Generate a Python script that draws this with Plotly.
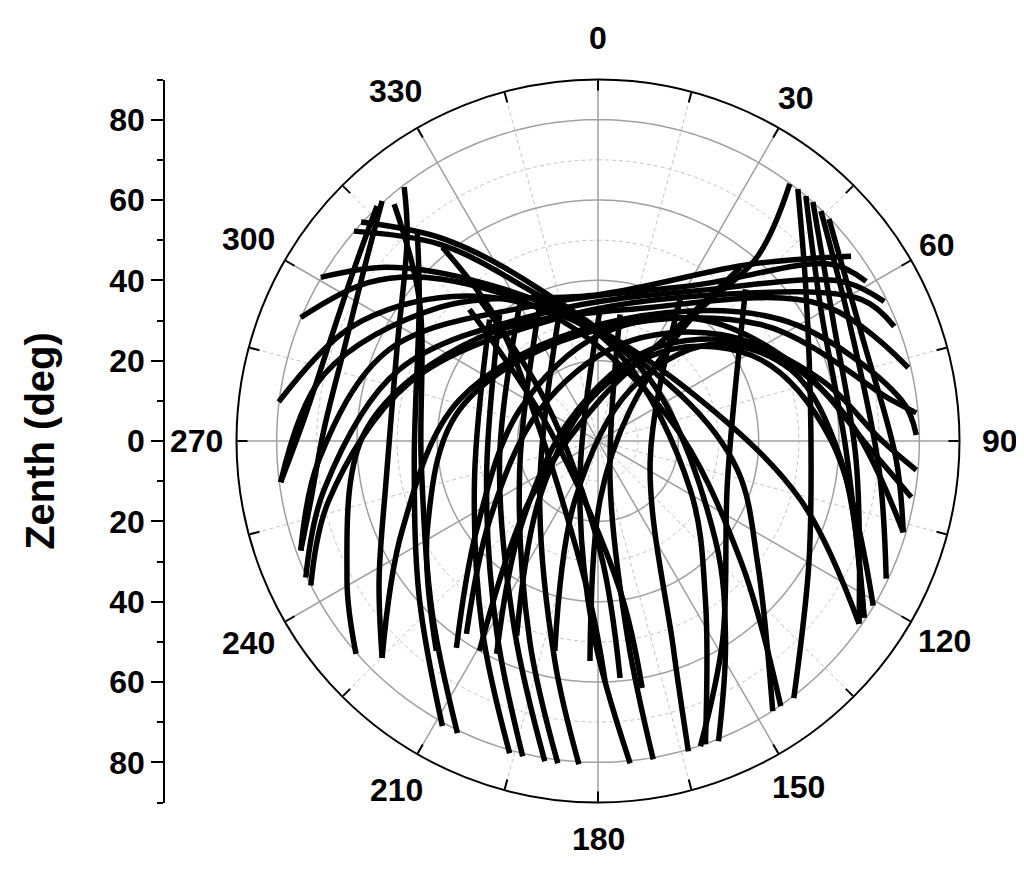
import numpy as np
import plotly.graph_objects as go

# ---- Satellite sky tracks (east / north offsets, in degrees of zenith angle) ----
trk01_east = [-79, -68.25, -39.5, 0.5, 38, 63]
trk01_north = [-10.25, 16.5, 33.25, 36.5, 44, 46]
trk02_east = [-74, -69.5, -52, -14.5, 25.5, 58, 66.75]
trk02_north = [-27.25, -4.75, 22.75, 34, 39, 44, 39.75]
trk03_east = [-72.75, -68.25, -49.5, -12, 28, 60.5, 71.25]
trk03_north = [-34, -12.25, 17.75, 32.25, 37.75, 39.75, 34.75]
trk04_east = [-71.5, -67, -47, -9.5, 30.5, 65.5, 73.75]
trk04_north = [-36, -14.75, 14.5, 30.75, 36.5, 35.25, 28.5]
trk05_east = [-60.25, -62.5, -57.75, -29.5, 13, 55.5, 77.25]
trk05_north = [-53, -34, 2.75, 25.75, 33.25, 34, 18.25]
trk06_east = [-53.75, -48.75, -34.5, 0.5, 45.5, 75.5, 79.25]
trk06_north = [-54, -22.25, 10.25, 29, 30.25, 10.25, 1.5]
trk07_east = [-40.25, -42.5, -34.5, -4.5, 40.5, 73, 79.25]
trk07_north = [-52.25, -22.25, 7.75, 26.5, 29, 10.25, 7]
trk08_east = [-35.25, -30.25, -19.5, 0.5, 25.5, 50.5, 68, 78]
trk08_north = [-51.5, -22.25, 7.75, 26.5, 30.25, 17.75, -2.25, -14]
trk09_east = [-32.75, -27, -14.5, 5.5, 30.5, 55.5, 70.5, 79.25]
trk09_north = [-48, -19.75, 7.75, 24, 26.5, 15.25, 0.25, -7.25]
trk10_east = [-25.25, -19.5, -7, 13, 38, 60.5, 76]
trk10_north = [-53, -22.25, 5.25, 22.75, 24, 7.75, -22.75]
trk11_east = [-20.25, -14.5, -2, 18, 40.5, 58, 68.5]
trk11_north = [-48.5, -14, 10.25, 22.75, 20.25, 0.25, -41]
trk12_east = [-10.75, -5.75, 8, 28, 48, 60.5, 66.25]
trk12_north = [-52.25, -14.75, 12.75, 24, 17.75, -4.75, -44]
trk13_east = [-79.5, -61.25, -36.25, -9.5, 20.5, 34.75, 39.75, 43.5]
trk13_north = [9.75, 28.5, 36, 31.5, 11.5, -7.25, -30.5, -67.25]
trk14_east = [-74, -57, -38.75, -9.5, 18, 35.5, 45.5]
trk14_north = [30.75, 39.5, 40.25, 30.25, 5.25, -29.75, -66]
trk15_east = [-69, -52.75, -32, -4.5, 25.5, 50.5, 65]
trk15_north = [40.75, 43.25, 40.25, 30.25, 10.25, -14.75, -45.5]
trk16_east = [-60.75, -39.5, -19.5, 5.5, 23, 26.75, 26.75]
trk16_north = [52.25, 49, 39, 21.5, -12.25, -39.75, -75.5]
trk17_east = [-59, -38.25, -14.5, 13, 29.25, 31.75, 30]
trk17_north = [54.5, 50.25, 37.75, 15.25, -24.75, -49.75, -74.75]
trk18_east = [-55, -60.75, -67, -73.25, -79]
trk18_north = [58.5, 42.75, 24, 5.25, -10.25]
trk19_east = [-53.75, -58.25, -63.25, -68.25, -71.5, -74]
trk19_north = [59.75, 42.75, 22.75, 2.75, -14.75, -27.25]
trk20_east = [-48.25, -47.5, -50, -52.75, -54.5, -53.75]
trk20_north = [63.25, 51, 23.5, -9.75, -34.75, -54]
trk21_east = [-45, -44.5, -45.75, -44.5, -38.75]
trk21_north = [52.25, 35.25, -5.5, -39, -71]
trk22_east = [-50.75, -44.5, -44, -41.25, -35]
trk22_north = [59, 35.25, -5.5, -43, -72.75]
trk23_east = [47.75, 39.75, 23, 8, 0.5, -2]
trk23_north = [64, 46, 30.25, 7.75, -14.75, -54.75]
trk24_east = [35.5, 20.5, 0.5, -17, -29.5]
trk24_north = [43.25, 29, 10.25, -14.75, -52.25]
trk25_east = [-38.75, -25.25, -14.5, -2, 1.75]
trk25_north = [48.25, 30.25, 2.75, -39.75, -59.75]
trk26_east = [-29.5, -13.25, 0.5, 5.5]
trk26_north = [35.25, 10.25, -27.25, -59]
trk27_east = [-32, -12, 5.5, 11]
trk27_north = [32.75, 2.75, -37.25, -61.5]
trk28_east = [-27, -30.75, -28.75, -22]
trk28_north = [30.25, -9.75, -47.25, -77.75]
trk29_east = [-24.5, -27.75, -25.25, -18.75]
trk29_north = [31.5, -9.75, -47.25, -78.5]
trk30_east = [-19.5, -24.5, -20.75, -13.25]
trk30_north = [34, -4.75, -47.25, -79.75]
trk31_east = [-14.5, -19.5, -17, -10]
trk31_north = [34, -7.25, -49.75, -80.25]
trk32_east = [-9.5, -14.5, -10.75, -4.75]
trk32_north = [32.75, -12.25, -54.75, -80.5]
trk33_east = [0.5, -4.5, -1.25, 8]
trk33_north = [32.75, -9.75, -47.25, -80.25]
trk34_east = [5.5, 3, 7.5, 13.75]
trk34_north = [31.5, -9.75, -49.75, -79.25]
trk35_east = [20.5, 13, 18.75, 22.5]
trk35_north = [35.25, -4.75, -51.5, -77.25]
trk36_east = [36.75, 32.25, 31, 25.5]
trk36_north = [37.75, -9.75, -49.75, -76]
trk37_east = [49.75, 51.75, 53, 52.5, 48.75]
trk37_north = [62.75, 37.75, 2.75, -30.5, -64]
trk38_east = [51.75, 55.5, 61.75, 66.25]
trk38_north = [61, 32.75, -2.25, -44]
trk39_east = [53.5, 58.5, 64.25, 65]
trk39_north = [59.5, 30.25, -4.75, -45.5]
trk40_east = [55.5, 63, 70, 71.75]
trk40_north = [57.25, 27.75, -7.25, -34.25]
trk41_east = [57.5, 66, 74.25, 76]
trk41_north = [55.25, 25.25, -4.75, -22.75]

# ---- Axis tick values ----
azimuth_ticks = list(range(0, 360, 15))
azimuth_label_values = list(range(0, 360, 30))
azimuth_label_text = [str(v) for v in azimuth_label_values]
zenith_major = [-80, -60, -40, -20, 0, 20, 40, 60, 80]
zenith_major_labels = ["80", "60", "40", "20", "0", "20", "40", "60", "80"]
zenith_minor = [-90, -70, -50, -30, -10, 10, 30, 50, 70, 90]
solid_rings = [20, 40, 60, 80]
dashed_rings = [10, 30, 50, 70]
solid_spokes = list(range(0, 360, 30))
dashed_spokes = list(range(15, 360, 30))

tracks = [
    (trk01_east, trk01_north), (trk02_east, trk02_north), (trk03_east, trk03_north),
    (trk04_east, trk04_north), (trk05_east, trk05_north), (trk06_east, trk06_north),
    (trk07_east, trk07_north), (trk08_east, trk08_north), (trk09_east, trk09_north),
    (trk10_east, trk10_north), (trk11_east, trk11_north), (trk12_east, trk12_north),
    (trk13_east, trk13_north), (trk14_east, trk14_north), (trk15_east, trk15_north),
    (trk16_east, trk16_north), (trk17_east, trk17_north), (trk18_east, trk18_north),
    (trk19_east, trk19_north), (trk20_east, trk20_north), (trk21_east, trk21_north),
    (trk22_east, trk22_north), (trk23_east, trk23_north), (trk24_east, trk24_north),
    (trk25_east, trk25_north), (trk26_east, trk26_north), (trk27_east, trk27_north),
    (trk28_east, trk28_north), (trk29_east, trk29_north), (trk30_east, trk30_north),
    (trk31_east, trk31_north), (trk32_east, trk32_north), (trk33_east, trk33_north),
    (trk34_east, trk34_north), (trk35_east, trk35_north), (trk36_east, trk36_north),
    (trk37_east, trk37_north), (trk38_east, trk38_north), (trk39_east, trk39_north),
    (trk40_east, trk40_north), (trk41_east, trk41_north),
]

# page body has an 8px margin; figure sized so the page is exactly 1024 wide
OFF = 8
W, H = 1024 - OFF, 878 - OFF
FONT = "Liberation Sans, Arial, sans-serif"

# polar plot geometry (figure pixels)
CX, CY, RAD = 598 - OFF, 441 - OFF, 361.5
# distance of each azimuth label centre outside the rim (px), 0..330 step 30
LABEL_GAPS = [41.5, 34.5, 30.5, 40.5, 38.5, 38.5, 36, 41.5, 42.5, 40.5, 41.5, 42.5]

fig = go.Figure()

# grid rings and spokes
ring_theta = np.linspace(0, 360, 361)
for r in dashed_rings:
    fig.add_trace(go.Scatterpolar(r=np.full(ring_theta.size, r), theta=ring_theta, mode="lines",
                                  line=dict(color="#c4c4c4", width=1, dash="4px,3px"),
                                  hoverinfo="skip", showlegend=False))
for a in dashed_spokes:
    fig.add_trace(go.Scatterpolar(r=[0, 90], theta=[a, a], mode="lines",
                                  line=dict(color="#c4c4c4", width=1, dash="4px,3px"),
                                  hoverinfo="skip", showlegend=False))
for r in solid_rings:
    fig.add_trace(go.Scatterpolar(r=np.full(ring_theta.size, r), theta=ring_theta, mode="lines",
                                  line=dict(color="#a0a0a0", width=1.5),
                                  hoverinfo="skip", showlegend=False))
for a in solid_spokes:
    fig.add_trace(go.Scatterpolar(r=[0, 90], theta=[a, a], mode="lines",
                                  line=dict(color="#a0a0a0", width=1.5),
                                  hoverinfo="skip", showlegend=False))

# satellite tracks
for east, north in tracks:
    e = np.asarray(east, dtype=float)
    n = np.asarray(north, dtype=float)
    zen = np.hypot(e, n)
    az = np.degrees(np.arctan2(e, n)) % 360
    fig.add_trace(go.Scatterpolar(r=zen, theta=az, mode="lines",
                                  line=dict(color="black", width=5.5, shape="spline", smoothing=1),
                                  hoverinfo="skip", showlegend=False))

# dummy cartesian trace to anchor the left zenith axis
fig.add_trace(go.Scatter(x=[0], y=[0], mode="markers", marker=dict(opacity=0),
                         hoverinfo="skip", showlegend=False, xaxis="x", yaxis="y"))

# azimuth labels placed outside the rim
annotations = []
for val, txt, gap in zip(azimuth_label_values, azimuth_label_text, LABEL_GAPS):
    t = np.radians(val)
    px = CX + (RAD + gap) * np.sin(t)
    py = CY - (RAD + gap) * np.cos(t)
    annotations.append(dict(x=px / W, y=1 - py / H, xref="paper", yref="paper",
                            text=txt, showarrow=False, xanchor="center", yanchor="middle",
                            font=dict(size=32, family=FONT, weight="bold", color="black")))

x0, x1 = (CX - RAD) / W, (CX + RAD) / W
y0, y1 = 1 - (CY + RAD) / H, 1 - (CY - RAD) / H

fig.update_layout(
    width=W, height=H,
    margin=dict(l=0, r=0, t=0, b=0),
    paper_bgcolor="white", plot_bgcolor="rgba(0,0,0,0)",
    font=dict(family=FONT, color="black"),
    annotations=annotations,
    polar=dict(
        domain=dict(x=[x0, x1], y=[y0, y1]),
        bgcolor="white",
        angularaxis=dict(
            rotation=90, direction="clockwise",
            tickmode="array", tickvals=azimuth_ticks,
            ticks="inside", ticklen=10, tickwidth=1.5, tickcolor="black",
            showline=True, linecolor="black", linewidth=2,
            showgrid=False, showticklabels=False,
        ),
        radialaxis=dict(range=[0, 90], showgrid=False, showline=False, showticklabels=False,
                        ticks=""),
    ),
    xaxis=dict(domain=[(165 - OFF) / W, 0.2], visible=False, range=[-1, 1]),
    yaxis=dict(
        domain=[y0, y1], anchor="x", range=[-90, 90], side="left",
        showline=True, linecolor="black", linewidth=1.5,
        showgrid=False, zeroline=False,
        tickmode="array", tickvals=zenith_major, ticktext=zenith_major_labels,
        ticks="outside", ticklen=12, tickwidth=1.5, tickcolor="black",
        minor=dict(tickmode="array", tickvals=zenith_minor, ticks="outside", ticklen=6,
                   tickwidth=1.5, tickcolor="black", showgrid=False),
        tickfont=dict(size=32, family=FONT, weight="bold", color="black"),
        title=dict(text="Zenth (deg)", font=dict(size=40, family=FONT, weight="bold", color="black"),
                   standoff=42),
        automargin=False,
    ),
)

fig.write_html("out.html")
